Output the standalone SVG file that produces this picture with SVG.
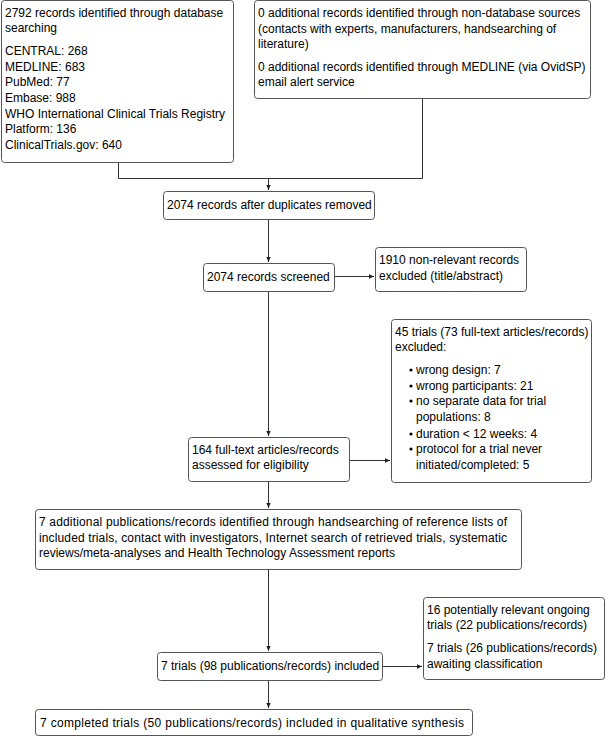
<svg xmlns="http://www.w3.org/2000/svg" width="606" height="737" viewBox="0 0 606 737">
<style>
.box{fill:#fff;stroke:#555;stroke-width:1}
.t{font-family:"Liberation Sans",Arial,sans-serif;font-size:12px;fill:#000}
.c{fill:none;stroke:#333;stroke-width:1}
</style>
<defs>
<marker id="ah" markerWidth="6" markerHeight="6" refX="5" refY="3" orient="auto" markerUnits="userSpaceOnUse">
<path d="M0,0.8 L5,3 L0,5.2 Z" fill="#222"/>
</marker>
</defs>
<rect width="606" height="737" fill="#fff"/>
<g id="connectors">
<path class="c" d="M118.5,163 V178.5 H422.5 V99"/>
<path class="c" d="M268.5,178.5 V190" marker-end="url(#ah)"/>
<path class="c" d="M268.5,219 V262" marker-end="url(#ah)"/>
<path class="c" d="M335,276.5 H374" marker-end="url(#ah)"/>
<path class="c" d="M268.5,291 V436" marker-end="url(#ah)"/>
<path class="c" d="M350,460.5 H390" marker-end="url(#ah)"/>
<path class="c" d="M268.5,482 V508" marker-end="url(#ah)"/>
<path class="c" d="M268.5,570 V651" marker-end="url(#ah)"/>
<path class="c" d="M383,666.5 H422" marker-end="url(#ah)"/>
<path class="c" d="M268.5,680 V708" marker-end="url(#ah)"/>
</g>
<g id="n1">
<rect class="box" x="1.5" y="0.5" width="232" height="162" rx="3"/>
<text class="t" x="5" y="17">2792 records identified through database</text>
<text class="t" x="5" y="32">searching</text>
<text class="t" x="5" y="55">CENTRAL: 268</text>
<text class="t" x="5" y="71">MEDLINE: 683</text>
<text class="t" x="5" y="86">PubMed: 77</text>
<text class="t" x="5" y="102">Embase: 988</text>
<text class="t" x="5" y="118">WHO International Clinical Trials Registry</text>
<text class="t" x="5" y="133">Platform: 136</text>
<text class="t" x="5" y="149">ClinicalTrials.gov: 640</text>
</g>
<g id="n2">
<rect class="box" x="254.5" y="0.5" width="336" height="98" rx="3"/>
<text class="t" x="258" y="17">0 additional records identified through non-database sources</text>
<text class="t" x="258" y="33">(contacts with experts, manufacturers, handsearching of</text>
<text class="t" x="258" y="48">literature)</text>
<text class="t" x="258" y="71">0 additional records identified through MEDLINE (via OvidSP)</text>
<text class="t" x="258" y="86">email alert service</text>
</g>
<g id="n3">
<rect class="box" x="163.5" y="191.5" width="211" height="28" rx="3"/>
<text class="t" x="167" y="209">2074 records after duplicates removed</text>
</g>
<g id="n4">
<rect class="box" x="203.5" y="263.5" width="131" height="28" rx="3"/>
<text class="t" x="207" y="281">2074 records screened</text>
</g>
<g id="n5">
<rect class="box" x="375.5" y="247.5" width="151" height="44" rx="3"/>
<text class="t" x="379" y="264">1910 non-relevant records</text>
<text class="t" x="379" y="280">excluded (title/abstract)</text>
</g>
<g id="n6">
<rect class="box" x="391.5" y="319.5" width="200" height="163" rx="3"/>
<text class="t" x="395" y="336">45 trials (73 full-text articles/records)</text>
<text class="t" x="395" y="351">excluded:</text>
<circle cx="411" cy="370" r="1.6" fill="#000"/>
<text class="t" x="416" y="374">wrong design: 7</text>
<circle cx="411" cy="386" r="1.6" fill="#000"/>
<text class="t" x="416" y="390">wrong participants: 21</text>
<circle cx="411" cy="401" r="1.6" fill="#000"/>
<text class="t" x="416" y="405">no separate data for trial</text>
<text class="t" x="416" y="421">populations: 8</text>
<circle cx="411" cy="434" r="1.6" fill="#000"/>
<text class="t" x="416" y="438">duration &lt; 12 weeks: 4</text>
<circle cx="411" cy="449" r="1.6" fill="#000"/>
<text class="t" x="416" y="453">protocol for a trial never</text>
<text class="t" x="416" y="469">initiated/completed: 5</text>
</g>
<g id="n7">
<rect class="box" x="188.5" y="437.5" width="161" height="44" rx="3"/>
<text class="t" x="192" y="454">164 full-text articles/records</text>
<text class="t" x="192" y="469">assessed for eligibility</text>
</g>
<g id="n8">
<rect class="box" x="35.5" y="509.5" width="486" height="60" rx="3"/>
<text class="t" x="39" y="526" textLength="468" lengthAdjust="spacing">7 additional publications/records identified through handsearching of reference lists of</text>
<text class="t" x="39" y="542" textLength="468" lengthAdjust="spacing">included trials, contact with investigators, Internet search of retrieved trials, systematic</text>
<text class="t" x="39" y="557">reviews/meta-analyses and Health Technology Assessment reports</text>
</g>
<g id="n9">
<rect class="box" x="157.5" y="652.5" width="225" height="28" rx="3"/>
<text class="t" x="161" y="670">7 trials (98 publications/records) included</text>
</g>
<g id="n10">
<rect class="box" x="423.5" y="597.5" width="181" height="82" rx="3"/>
<text class="t" x="427" y="614">16 potentially relevant ongoing</text>
<text class="t" x="427" y="629">trials (22 publications/records)</text>
<text class="t" x="427" y="652">7 trials (26 publications/records)</text>
<text class="t" x="427" y="668">awaiting classification</text>
</g>
<g id="n11">
<rect class="box" x="35.5" y="709.5" width="437" height="26" rx="3"/>
<text class="t" x="40" y="727" textLength="424" lengthAdjust="spacing">7 completed trials (50 publications/records) included in qualitative synthesis</text>
</g>
</svg>
